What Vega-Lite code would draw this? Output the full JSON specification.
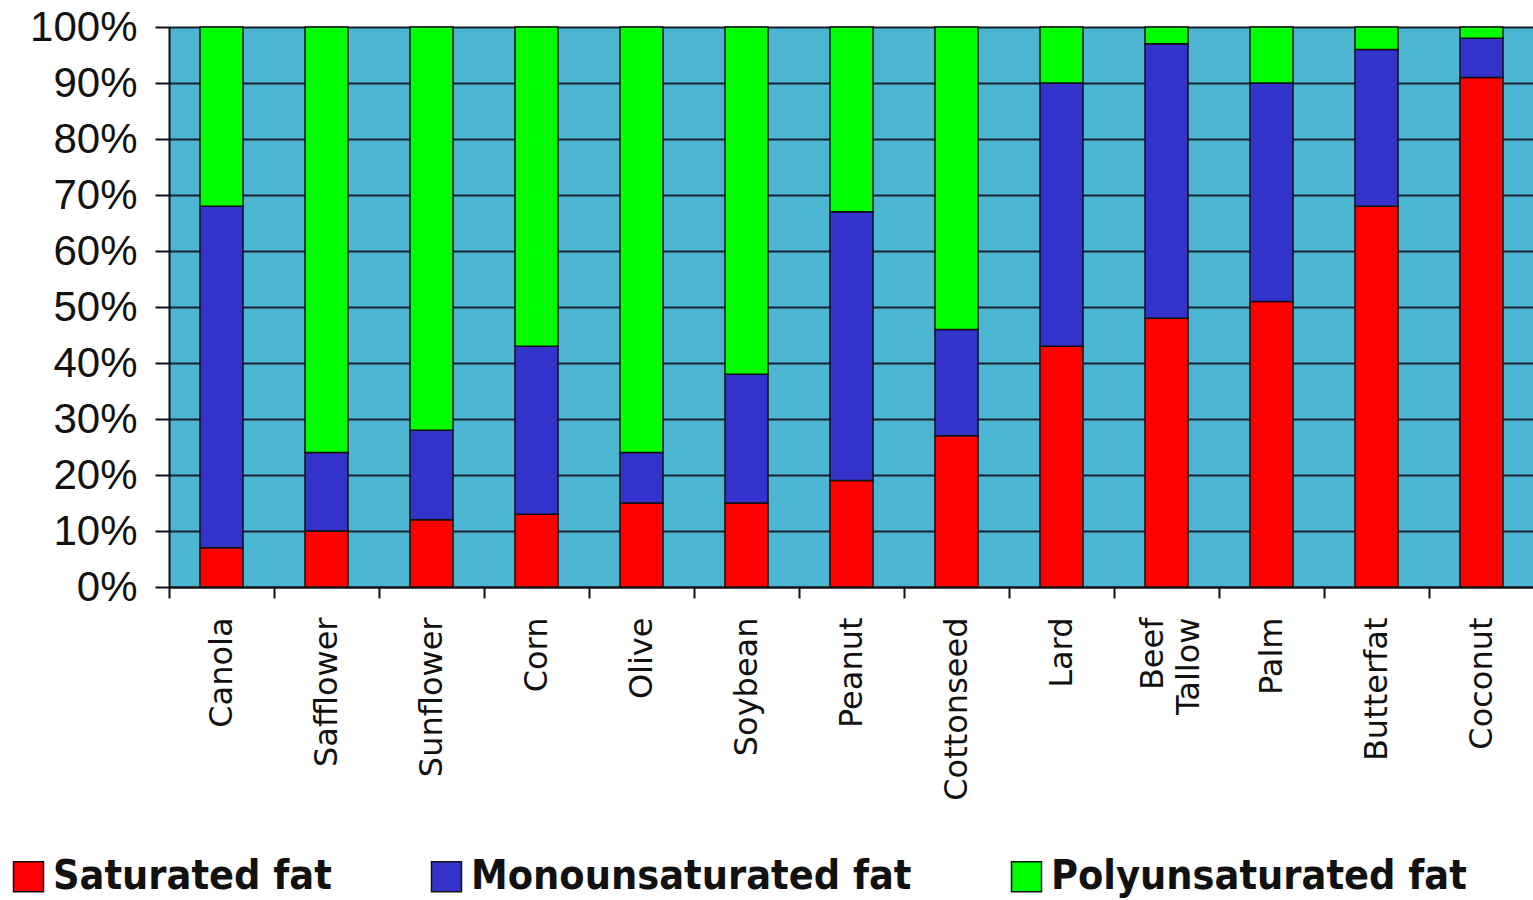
{
  "$schema": "https://vega.github.io/schema/vega-lite/v6.json",
  "width": 1365,
  "height": 560,
  "autosize": {"type": "none"},
  "padding": {"left": 169, "top": 27, "right": 0, "bottom": 313},
  "background": "white",
  "config": {"view": {"fill": "#4cb5d1", "stroke": null}},
  "data": {
    "values": [
      {"oil": "Canola", "type": "Saturated fat", "value": 7},
      {"oil": "Canola", "type": "Monounsaturated fat", "value": 61},
      {"oil": "Canola", "type": "Polyunsaturated fat", "value": 32},
      {"oil": "Safflower", "type": "Saturated fat", "value": 10},
      {"oil": "Safflower", "type": "Monounsaturated fat", "value": 14},
      {"oil": "Safflower", "type": "Polyunsaturated fat", "value": 76},
      {"oil": "Sunflower", "type": "Saturated fat", "value": 12},
      {"oil": "Sunflower", "type": "Monounsaturated fat", "value": 16},
      {"oil": "Sunflower", "type": "Polyunsaturated fat", "value": 72},
      {"oil": "Corn", "type": "Saturated fat", "value": 13},
      {"oil": "Corn", "type": "Monounsaturated fat", "value": 30},
      {"oil": "Corn", "type": "Polyunsaturated fat", "value": 57},
      {"oil": "Olive", "type": "Saturated fat", "value": 15},
      {"oil": "Olive", "type": "Monounsaturated fat", "value": 9},
      {"oil": "Olive", "type": "Polyunsaturated fat", "value": 76},
      {"oil": "Soybean", "type": "Saturated fat", "value": 15},
      {"oil": "Soybean", "type": "Monounsaturated fat", "value": 23},
      {"oil": "Soybean", "type": "Polyunsaturated fat", "value": 62},
      {"oil": "Peanut", "type": "Saturated fat", "value": 19},
      {"oil": "Peanut", "type": "Monounsaturated fat", "value": 48},
      {"oil": "Peanut", "type": "Polyunsaturated fat", "value": 33},
      {"oil": "Cottonseed", "type": "Saturated fat", "value": 27},
      {"oil": "Cottonseed", "type": "Monounsaturated fat", "value": 19},
      {"oil": "Cottonseed", "type": "Polyunsaturated fat", "value": 54},
      {"oil": "Lard", "type": "Saturated fat", "value": 43},
      {"oil": "Lard", "type": "Monounsaturated fat", "value": 47},
      {"oil": "Lard", "type": "Polyunsaturated fat", "value": 10},
      {"oil": "Beef Tallow", "type": "Saturated fat", "value": 48},
      {"oil": "Beef Tallow", "type": "Monounsaturated fat", "value": 49},
      {"oil": "Beef Tallow", "type": "Polyunsaturated fat", "value": 3},
      {"oil": "Palm", "type": "Saturated fat", "value": 51},
      {"oil": "Palm", "type": "Monounsaturated fat", "value": 39},
      {"oil": "Palm", "type": "Polyunsaturated fat", "value": 10},
      {"oil": "Butterfat", "type": "Saturated fat", "value": 68},
      {"oil": "Butterfat", "type": "Monounsaturated fat", "value": 28},
      {"oil": "Butterfat", "type": "Polyunsaturated fat", "value": 4},
      {"oil": "Coconut", "type": "Saturated fat", "value": 91},
      {"oil": "Coconut", "type": "Monounsaturated fat", "value": 7},
      {"oil": "Coconut", "type": "Polyunsaturated fat", "value": 2}
    ]
  },
  "transform": [
    {"calculate": "indexof(['Saturated fat','Monounsaturated fat','Polyunsaturated fat'], datum.type)", "as": "k"}
  ],
  "mark": {"type": "bar", "stroke": "#111111", "strokeWidth": 1.5, "width": {"band": 0.41}},
  "encoding": {
    "x": {
      "field": "oil",
      "type": "nominal",
      "sort": null,
      "scale": {"paddingInner": 0, "paddingOuter": 0},
      "axis": {
        "title": null,
        "labelAngle": -90,
        "labelFont": "DejaVu Sans",
        "labelFontSize": 32,
        "labelColor": "#111111",
        "labelPadding": 19,
        "labelLimit": 400,
        "labelLineHeight": 36,
        "labelExpr": "datum.label == 'Beef Tallow' ? ['Beef\u00a0', 'Tallow'] : datum.label",
        "labelOffset": {"condition": {"test": "datum.value == 'Beef Tallow'", "value": -14}, "value": 0},
        "tickBand": "extent",
        "tickSize": 11,
        "tickWidth": 2,
        "tickColor": "#111111",
        "domainColor": "#111111",
        "domainWidth": 2,
        "grid": false
      }
    },
    "y": {
      "field": "value",
      "type": "quantitative",
      "stack": "normalize",
      "scale": {"domain": [0, 1], "nice": false},
      "axis": {
        "title": null,
        "values": [0, 0.1, 0.2, 0.3, 0.4, 0.5, 0.6, 0.7, 0.8, 0.9, 1],
        "format": ".0%",
        "grid": true,
        "gridColor": "#16202e",
        "gridWidth": 2,
        "gridOpacity": 1,
        "domainColor": "#111111",
        "domainWidth": 2,
        "tickSize": 14,
        "tickWidth": 2,
        "tickColor": "#111111",
        "labelFont": "Liberation Sans",
        "labelFontSize": 42,
        "labelColor": "#111111",
        "labelPadding": 18
      }
    },
    "color": {
      "field": "type",
      "type": "nominal",
      "scale": {
        "domain": ["Saturated fat", "Monounsaturated fat", "Polyunsaturated fat"],
        "range": ["#ff0000", "#3333cc", "#00ff00"]
      },
      "legend": {
        "title": null,
        "orient": "none",
        "legendX": -161,
        "legendY": 829,
        "direction": "horizontal",
        "padding": 0,
        "symbolType": "square",
        "symbolSize": 900,
        "symbolStrokeColor": "#111111",
        "symbolStrokeWidth": 1.5,
        "symbolOpacity": 1,
        "labelFont": "DejaVu Sans Condensed",
        "labelFontWeight": "bold",
        "labelFontSize": 41,
        "labelColor": "#111111",
        "labelOffset": 4,
        "labelLimit": 1000,
        "columnPadding": 94
      }
    },
    "order": {"field": "k", "type": "quantitative"}
  }
}
